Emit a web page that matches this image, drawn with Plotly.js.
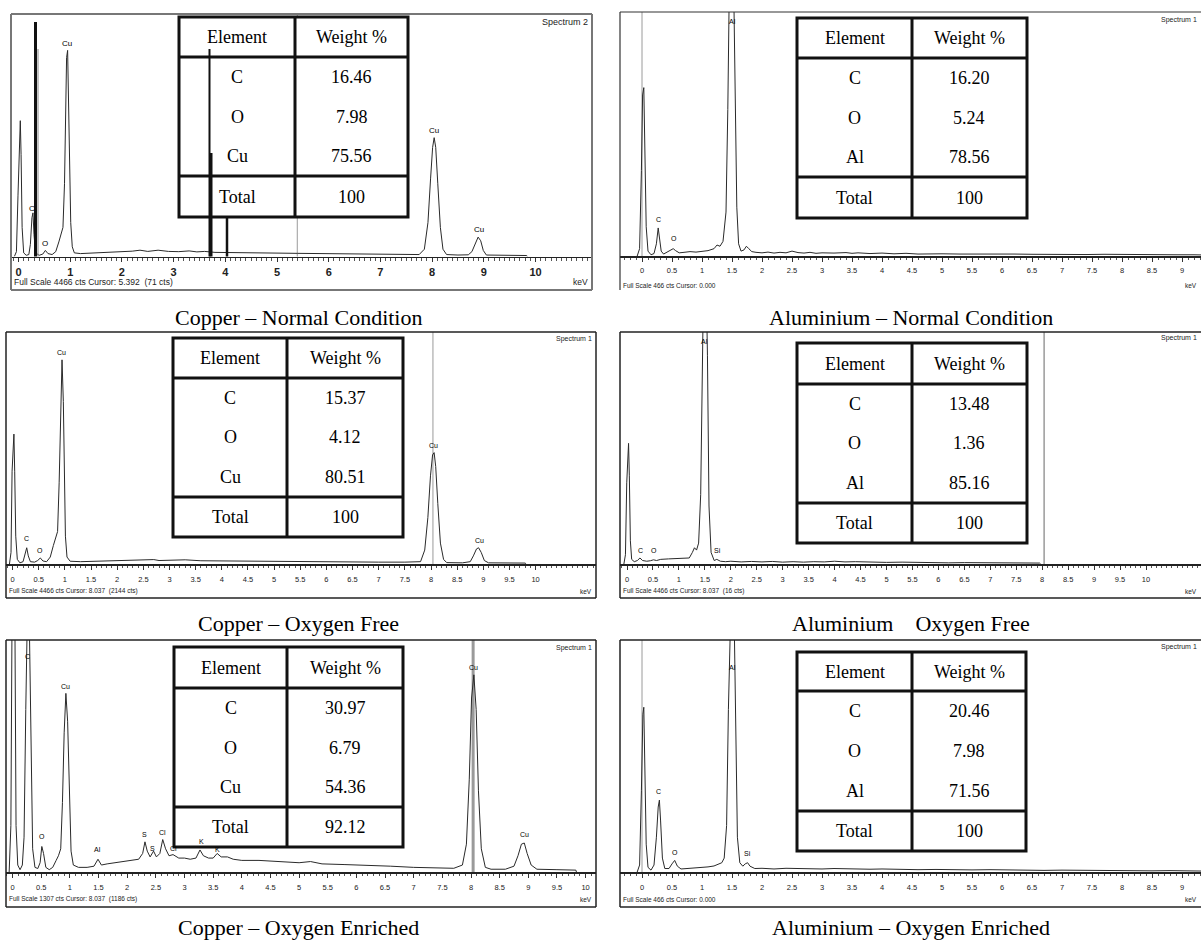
<!DOCTYPE html>
<html>
<head>
<meta charset="utf-8">
<script src="https://cdn.plot.ly/plotly-3.0.1.min.js"></script>
<style>html,body{margin:0;padding:0;background:#fff}#chart{width:1201px;height:942px}</style>
</head>
<body>
<div id="chart"></div>
<script>
// ---------------- DATA ----------------
const captions = ['Copper \u2013 Normal Condition', 'Aluminium \u2013 Normal Condition',
  'Copper \u2013 Oxygen Free', 'Aluminium\u00a0\u00a0\u00a0 Oxygen Free',
  'Copper \u2013 Oxygen Enriched', 'Aluminium \u2013 Oxygen Enriched'];

const tableHeader = ['Element', 'Weight %'];
const totalLabel = 'Total';
const cuElements = ['C', 'O', 'Cu'];
const alElements = ['C', 'O', 'Al'];
const cuNormalWt = ['16.46', '7.98', '75.56'];
const alNormalWt = ['16.20', '5.24', '78.56'];
const cuOxyFreeWt = ['15.37', '4.12', '80.51'];
const alOxyFreeWt = ['13.48', '1.36', '85.16'];
const cuOxyEnrWt = ['30.97', '6.79', '54.36'];
const alOxyEnrWt = ['20.46', '7.98', '71.56'];
const weightTotals = ['100', '100', '100', '100', '92.12', '100'];

const spectrumNames = ['Spectrum 2', 'Spectrum 1', 'Spectrum 1', 'Spectrum 1', 'Spectrum 1', 'Spectrum 1'];
const fullScaleTexts = [
  'Full Scale 4466 cts Cursor: 5.392  (71 cts)',
  'Full Scale 466 cts Cursor: 0.000',
  'Full Scale 4466 cts Cursor: 8.037  (2144 cts)',
  'Full Scale 4466 cts Cursor: 8.037  (16 cts)',
  'Full Scale 1307 cts Cursor: 8.037  (1186 cts)',
  'Full Scale 466 cts Cursor: 0.000'];
const cursorKeV = [5.392, 0.0, 8.037, 8.037, 8.037, 0.0];

const intTickVals = [0, 1, 2, 3, 4, 5, 6, 7, 8, 9, 10];
const intTickText = ['0', '1', '2', '3', '4', '5', '6', '7', '8', '9', '10'];
const halfTickVals = [0, 0.5, 1, 1.5, 2, 2.5, 3, 3.5, 4, 4.5, 5, 5.5, 6, 6.5, 7, 7.5, 8, 8.5, 9, 9.5, 10];
const halfTickText = ['0', '0.5', '1', '1.5', '2', '2.5', '3', '3.5', '4', '4.5', '5', '5.5', '6', '6.5', '7', '7.5', '8', '8.5', '9', '9.5', '10'];

// spectra: [keV, intensity in % of full scale]
const cuNormalSpectrum = [[-0.08,0],[-0.04,2],[-0.01,25],[0.02,52],[0.035,56],[0.05,42],[0.07,12],[0.1,1.5],[0.15,0.5],[0.2,0.8],[0.23,5],[0.26,16],[0.28,18],[0.3,9],[0.33,1.5],[0.4,0.5],[0.47,1],[0.52,2.5],[0.57,1.2],[0.65,0.8],[0.72,2],[0.78,6],[0.83,10],[0.86,12],[0.89,30],[0.91,60],[0.93,82],[0.95,85],[0.97,65],[0.99,35],[1.01,14],[1.04,4],[1.08,1.5],[1.2,1.2],[1.4,1.4],[1.6,1.6],[1.8,1.7],[2.0,2.0],[2.2,2.2],[2.35,2.6],[2.5,2.1],[2.7,2.6],[2.9,2.1],[3.1,2.0],[3.3,2.3],[3.45,1.9],[3.6,2.1],[3.8,1.7],[4.0,1.6],[4.3,1.7],[4.6,1.5],[5.0,1.4],[5.4,1.3],[5.8,1.2],[6.2,1.1],[6.6,1.3],[7.0,1.0],[7.4,0.9],[7.75,0.8],[7.85,3],[7.92,14],[7.97,32],[8.01,45],[8.04,49],[8.07,45],[8.11,30],[8.16,12],[8.21,3],[8.28,0.8],[8.5,0.6],[8.7,0.7],[8.77,2],[8.83,5],[8.89,8],[8.94,6.5],[8.99,2.5],[9.05,0.6],[9.4,0.5],[9.83,0.4],[9.84,0]];

const alNormalSpectrum = [[-0.08,0],[-0.04,3],[-0.01,35],[0.01,66],[0.03,69],[0.05,45],[0.07,12],[0.1,2],[0.15,0.5],[0.2,1],[0.24,5],[0.27,11.5],[0.29,8],[0.32,2],[0.36,0.8],[0.42,1.5],[0.48,2.5],[0.52,3],[0.56,2.2],[0.62,1.3],[0.7,1.5],[0.8,1.8],[0.9,1.6],[1.0,2],[1.1,2.2],[1.2,3],[1.25,4.5],[1.3,4],[1.35,6],[1.4,18],[1.43,60],[1.46,120],[1.49,135],[1.52,125],[1.55,75],[1.58,20],[1.61,5],[1.65,2],[1.7,2.5],[1.74,4],[1.78,3],[1.83,1.8],[1.9,1.5],[2.0,1.3],[2.1,1.6],[2.2,1.2],[2.3,1.5],[2.4,1.3],[2.5,2],[2.55,1.6],[2.6,1.4],[2.7,1.2],[2.8,1.5],[2.9,1.1],[3.0,1.3],[3.2,1.2],[3.4,1.4],[3.5,1.1],[3.6,1.3],[3.8,1.0],[4.0,1.2],[4.2,0.9],[4.4,1.1],[4.6,0.8],[4.8,1.0],[5.0,0.9],[5.3,0.8],[5.6,0.9],[5.9,0.7],[6.2,0.8],[6.5,0.7],[6.8,0.6],[7.1,0.8],[7.4,0.6],[7.7,0.7],[8.0,0.6],[8.3,0.5],[8.6,0.6],[8.9,0.5],[9.2,0.5],[9.4,0.4]];

const cuOxyFreeSpectrum = [[-0.06,0],[-0.03,5],[-0.01,40],[0.01,55],[0.025,56],[0.04,40],[0.06,12],[0.09,2],[0.14,0.5],[0.2,1],[0.24,4],[0.27,7],[0.3,3.5],[0.34,1],[0.42,0.8],[0.48,1.5],[0.53,2.6],[0.58,1.3],[0.65,1],[0.72,3],[0.78,8],[0.82,11.5],[0.86,14],[0.89,35],[0.92,70],[0.945,88],[0.97,70],[0.99,35],[1.01,12],[1.04,3],[1.1,1.2],[1.3,1],[1.6,1.2],[2.0,1.4],[2.4,1.6],[2.7,1.9],[2.8,1.5],[3.2,1.5],[3.3,1.8],[3.6,1.4],[4.0,1.3],[4.5,1.2],[5.0,1.1],[5.5,1.0],[6.0,1.0],[6.5,0.9],[7.0,0.8],[7.5,0.8],[7.8,1],[7.88,6],[7.94,20],[7.99,38],[8.03,47],[8.06,48],[8.09,42],[8.13,26],[8.18,9],[8.24,2],[8.3,0.6],[8.6,0.5],[8.75,1],[8.81,3.5],[8.87,6.5],[8.91,7],[8.96,5],[9.02,1.5],[9.1,0.5],[9.8,0.4],[9.82,0]];

const alOxyFreeSpectrum = [[-0.06,0],[-0.03,4],[-0.005,35],[0.015,50],[0.03,52],[0.045,38],[0.065,10],[0.09,2],[0.14,1],[0.2,1.5],[0.25,2.6],[0.3,1.5],[0.38,1.2],[0.45,1.4],[0.51,1.8],[0.57,1.5],[0.65,2],[0.8,2.2],[0.95,2.3],[1.1,2.4],[1.2,2.6],[1.26,5],[1.3,7],[1.34,6],[1.38,9],[1.42,30],[1.45,90],[1.48,130],[1.52,130],[1.55,90],[1.58,25],[1.62,5],[1.68,1.5],[1.73,2],[1.8,1.2],[1.9,1.0],[2.0,1.2],[2.2,0.9],[2.4,1.1],[2.6,0.9],[2.8,1.1],[3.0,0.8],[3.2,1.0],[3.4,0.8],[3.6,1.0],[3.8,0.9],[4.0,1.2],[4.2,0.9],[4.4,1.0],[4.6,0.8],[4.8,0.9],[5.0,0.7],[5.3,0.8],[5.6,0.6],[5.9,0.7],[6.2,0.5],[6.5,0.6],[6.8,0.5],[7.1,0.6],[7.4,0.4],[7.7,0.5],[7.95,0.4],[7.97,0]];

const cuOxyEnrSpectrum = [[-0.06,0],[-0.03,20],[-0.01,110],[0.02,130],[0.04,110],[0.06,20],[0.09,3],[0.13,1],[0.17,3],[0.2,15],[0.23,70],[0.26,115],[0.29,110],[0.32,50],[0.35,10],[0.39,2],[0.44,1.5],[0.48,4],[0.51,11],[0.54,8],[0.58,2],[0.64,1],[0.7,2],[0.76,5],[0.8,7],[0.84,10],[0.87,30],[0.9,60],[0.93,77],[0.96,65],[0.99,30],[1.02,9],[1.06,3],[1.15,2],[1.3,2],[1.42,2.5],[1.49,5.5],[1.55,3],[1.65,3.5],[1.8,4],[1.95,4.5],[2.1,5],[2.2,5.5],[2.27,8],[2.31,13],[2.35,9],[2.4,6.5],[2.46,9],[2.51,6.5],[2.57,8],[2.62,14],[2.67,10],[2.73,7],[2.8,7.5],[2.9,6],[3.0,6],[3.1,5.5],[3.2,6],[3.27,9.5],[3.33,7],[3.42,6],[3.5,6],[3.57,8],[3.64,6.5],[3.75,6.5],[3.85,5.5],[4.0,5],[4.3,5],[4.6,4.5],[5.0,4],[5.2,4.5],[5.4,3.5],[5.8,3.2],[6.2,3],[6.6,2.5],[7.0,2],[7.4,1.7],[7.7,1.6],[7.85,3],[7.92,12],[7.97,40],[8.01,75],[8.05,85],[8.09,70],[8.13,35],[8.18,10],[8.25,2],[8.35,1.2],[8.6,1.2],[8.75,2.5],[8.82,7],[8.88,12],[8.93,12.5],[8.98,8],[9.05,3],[9.15,1.2],[9.5,1],[9.83,0.8],[9.84,0]];

const alOxyEnrSpectrum = [[-0.08,0],[-0.04,3],[-0.01,35],[0.015,68],[0.03,71],[0.05,45],[0.07,12],[0.1,2],[0.15,0.8],[0.2,3],[0.24,15],[0.27,28],[0.29,31],[0.31,22],[0.34,6],[0.38,1.5],[0.45,1.5],[0.5,3.5],[0.545,5],[0.59,2.5],[0.65,1.3],[0.75,1.5],[0.9,1.7],[1.0,2],[1.1,2.2],[1.2,2.6],[1.28,3.5],[1.33,4],[1.37,6],[1.41,20],[1.44,70],[1.47,125],[1.5,135],[1.53,120],[1.56,60],[1.59,15],[1.63,4],[1.68,2.5],[1.72,3.5],[1.76,4],[1.8,2.5],[1.88,1.5],[2.0,1.6],[2.2,1.3],[2.4,1.6],[2.6,1.4],[2.8,1.5],[3.0,1.3],[3.2,1.5],[3.4,1.3],[3.6,1.4],[3.8,1.2],[4.0,1.3],[4.3,1.1],[4.6,1.0],[4.9,1.1],[5.2,0.9],[5.5,0.9],[5.8,1.0],[6.1,0.8],[6.4,0.9],[6.7,0.7],[7.0,0.8],[7.3,0.7],[7.6,0.6],[7.9,0.7],[8.2,0.6],[8.5,0.5],[8.8,0.6],[9.1,0.5],[9.35,0.4]];

// peak labels: [text, keV, % of full scale]
const cuNormalPeaks = [['Cu',0.94,88],['C',0.27,20],['O',0.52,5.5],['Cu',8.04,52],['Cu',8.9,11]];
const alNormalPeaks = [['C',0.28,15],['O',0.53,7],['Al',1.5,96]];
const cuOxyFreePeaks = [['Cu',0.94,91],['C',0.27,11],['O',0.53,6],['Cu',8.05,51],['Cu',8.92,10]];
const alOxyFreePeaks = [['C',0.26,6],['O',0.52,6],['Al',1.5,96],['Si',1.74,6]];
const cuOxyEnrPeaks = [['C',0.26,93],['O',0.51,15.5],['Cu',0.93,80],['Al',1.49,9.5],['S',2.31,16],['S',2.45,10],['Cl',2.62,17],['Cl',2.8,10],['K',3.3,13],['K',3.58,9.5],['Cu',8.05,88],['Cu',8.93,16]];
const alOxyEnrPeaks = [['C',0.28,34.5],['O',0.55,8.6],['Al',1.5,88],['Si',1.76,8]];

// ---------------- LAYOUT GEOMETRY (pixels) ----------------
const W = 1201, H = 942;
const P = px => px / W;
const Q = py => 1 - py / H;

const panels = [
  {spec: cuNormalSpectrum, peaks: cuNormalPeaks, el: cuElements, wt: cuNormalWt,
   g: {left:11, right:592, top:14, base:256.5, bottom:290, x0:18.5, ppk:51.7, frame:'#777', fw:2, rightLine:true, bottomLine:true,
       table:{x0:179,x1:408,y0:17,y1:217,hdr:57,tot:176,div:295}, ticks:'int', tsize:11, tbold:true, tstand:1,
       small:8.5, lab:8, spec:[590,22,'right'], full:[12,282], kev:[590,282,'right'], cap:[298,317], cursorW:1}},
  {spec: alNormalSpectrum, peaks: alNormalPeaks, el: alElements, wt: alNormalWt,
   g: {left:620, right:1201, top:12, base:256, bottom:290, x0:642, ppk:60, frame:'#333', fw:1.2, rightLine:false, bottomLine:false,
       table:{x0:797,x1:1027,y0:18,y1:218,hdr:58,tot:177,div:912}, ticks:'half', tsize:7.5, tbold:false, tstand:2,
       small:6.5, lab:7, spec:[1199,20,'right'], full:[621,285], kev:[1199,285,'right'], cap:[911,317], cursorW:1}},
  {spec: cuOxyFreeSpectrum, peaks: cuOxyFreePeaks, el: cuElements, wt: cuOxyFreeWt,
   g: {left:6, right:596, top:332, base:564, bottom:598, x0:12.6, ppk:52.3, frame:'#222', fw:1.5, rightLine:true, bottomLine:true,
       table:{x0:173,x1:403,y0:338,y1:537,hdr:378,tot:497,div:287}, ticks:'half', tsize:7.5, tbold:false, tstand:3,
       small:6.5, lab:7, spec:[594,339,'right'], full:[7,591], kev:[594,591,'right'], cap:[298,623], cursorW:1}},
  {spec: alOxyFreeSpectrum, peaks: alOxyFreePeaks, el: alElements, wt: alOxyFreeWt,
   g: {left:620, right:1201, top:332, base:564, bottom:598, x0:627, ppk:51.9, frame:'#222', fw:1.5, rightLine:false, bottomLine:true,
       table:{x0:797,x1:1027,y0:343,y1:543,hdr:384,tot:503,div:912}, ticks:'half', tsize:7.5, tbold:false, tstand:3,
       small:6.5, lab:7, spec:[1199,338,'right'], full:[621,591], kev:[1199,591,'right'], cap:[911,623], cursorW:1.5}},
  {spec: cuOxyEnrSpectrum, peaks: cuOxyEnrPeaks, el: cuElements, wt: cuOxyEnrWt,
   g: {left:6, right:596, top:640, base:872, bottom:907, x0:12.6, ppk:57.3, frame:'#222', fw:1.5, rightLine:true, bottomLine:true,
       table:{x0:174,x1:403,y0:647,y1:847,hdr:688,tot:807,div:287}, ticks:'half', tsize:7.5, tbold:false, tstand:3,
       small:6.5, lab:7, spec:[594,648,'right'], full:[7,899], kev:[594,899,'right'], cap:[298,927], cursorW:3}},
  {spec: alOxyEnrSpectrum, peaks: alOxyEnrPeaks, el: alElements, wt: alOxyEnrWt,
   g: {left:620, right:1201, top:640, base:872, bottom:907, x0:642, ppk:60, frame:'#222', fw:1.5, rightLine:false, bottomLine:true,
       table:{x0:797,x1:1026,y0:652,y1:851,hdr:691,tot:811,div:912}, ticks:'half', tsize:7.5, tbold:false, tstand:3,
       small:6.5, lab:7, spec:[1199,647,'right'], full:[621,899], kev:[1199,899,'right'], cap:[911,927], cursorW:1}}
];

const data = [], shapes = [], annotations = [];
const layout = {
  width: W, height: H, autosize: false,
  margin: {l: 0, r: 0, t: 0, b: 0, pad: 0},
  paper_bgcolor: '#ffffff', plot_bgcolor: 'rgba(0,0,0,0)',
  showlegend: false, hovermode: false
};

const SANS = 'Liberation Sans, Arial, sans-serif';
const SERIF = 'Liberation Serif, Times New Roman, serif';

function pline(x0, y0, x1, y1, color, width) {
  shapes.push({type: 'line', xref: 'paper', yref: 'paper', x0: P(x0), y0: Q(y0), x1: P(x1), y1: Q(y1),
    line: {color: color, width: width}});
}
function ptext(text, x, y, size, family, xanchor, color, extra) {
  annotations.push(Object.assign({text: text, xref: 'paper', yref: 'paper', x: P(x), y: Q(y),
    xanchor: xanchor || 'center', yanchor: 'middle', showarrow: false,
    font: {family: family, size: size, color: color || '#000'}}, extra || {}));
}

panels.forEach((pn, i) => {
  const g = pn.g;
  const n = i === 0 ? '' : String(i + 1);
  const xa = 'x' + n, ya = 'y' + n;
  // spectrum trace
  data.push({type: 'scatter', mode: 'lines', xaxis: xa, yaxis: ya,
    x: pn.spec.map(d => d[0]), y: pn.spec.map(d => d[1]),
    line: {color: '#2a2a2a', width: 1}, hoverinfo: 'skip'});
  const tv = g.ticks === 'int' ? intTickVals : halfTickVals;
  const tt = g.ticks === 'int' ? intTickText : halfTickText;
  layout['xaxis' + n] = {
    domain: [P(g.left), Math.min(1, P(g.right))],
    range: [(g.left - g.x0) / g.ppk, (g.right - g.x0) / g.ppk],
    anchor: ya, showline: true, linecolor: '#222', linewidth: 1.5, mirror: false,
    ticks: 'outside', ticklen: 4, tickwidth: 1, tickcolor: '#333',
    tickmode: 'array', tickvals: tv, ticktext: tt, ticklabelstandoff: g.tstand,
    tickfont: {family: SANS, size: g.tsize, color: '#222', weight: g.tbold ? 'bold' : 'normal'},
    minor: {ticks: 'outside', ticklen: 2.5, dtick: 0.1, tick0: 0, tickcolor: '#555', tickwidth: 1, showgrid: false},
    showgrid: false, zeroline: false, fixedrange: true
  };
  layout['yaxis' + n] = {
    domain: [Q(g.base), Q(g.top)], range: [0, 100], anchor: xa,
    visible: false, showgrid: false, zeroline: false, fixedrange: true
  };
  // cursor line
  shapes.push({type: 'line', xref: xa, yref: ya + ' domain', x0: cursorKeV[i], x1: cursorKeV[i], y0: 0, y1: 1,
    line: {color: '#9a9a9a', width: g.cursorW}, layer: 'below'});
  // frame
  pline(g.left, g.top, g.left, g.bottom, g.frame, g.fw);
  pline(g.left, g.top, g.right, g.top, g.frame, g.fw);
  if (g.rightLine) pline(g.right, g.top, g.right, g.bottom, g.frame, g.fw);
  if (g.bottomLine) pline(g.left, g.bottom, g.right, g.bottom, g.frame, g.fw);
  // peak labels
  pn.peaks.forEach(pk => {
    annotations.push({text: pk[0], xref: xa, yref: ya, x: pk[1], y: pk[2], showarrow: false,
      xanchor: 'center', yanchor: 'middle', font: {family: SANS, size: g.lab, color: '#000000'}});
  });
  // corner texts
  ptext(spectrumNames[i], g.spec[0], g.spec[1], g.small + 0.5, SANS, g.spec[2], '#222');
  ptext(fullScaleTexts[i], g.full[0], g.full[1], g.small, SANS, 'left', '#222');
  ptext('keV', g.kev[0], g.kev[1], g.small, SANS, g.kev[2], '#222');
  // table
  const t = g.table;
  shapes.push({type: 'rect', xref: 'paper', yref: 'paper', x0: P(t.x0), x1: P(t.x1), y0: Q(t.y1), y1: Q(t.y0),
    fillcolor: '#ffffff', line: {color: '#111', width: 3}});
  pline(t.x0, t.hdr, t.x1, t.hdr, '#111', 3);
  pline(t.x0, t.tot, t.x1, t.tot, '#111', 3);
  pline(t.div, t.y0, t.div, t.y1, '#111', 3);
  const c1 = (t.x0 + t.div) / 2, c2 = (t.div + t.x1) / 2;
  ptext(tableHeader[0], c1, (t.y0 + t.hdr) / 2, 18, SERIF);
  ptext(tableHeader[1], c2, (t.y0 + t.hdr) / 2, 18, SERIF);
  const rh = (t.tot - t.hdr) / pn.el.length;
  pn.el.forEach((e, k) => {
    ptext(e, c1, t.hdr + (k + 0.5) * rh, 18, SERIF);
    ptext(pn.wt[k], c2, t.hdr + (k + 0.5) * rh, 18, SERIF);
  });
  ptext(totalLabel, c1, (t.tot + t.y1) / 2, 18, SERIF);
  ptext(weightTotals[i], c2, (t.tot + t.y1) / 2, 18, SERIF);
  // caption
  ptext(captions[i], g.cap[0], g.cap[1], 22, SERIF, 'center', '#000');
});

// scan artefact bars in the first panel (thick dark vertical strokes)
pline(35.5, 22, 35.5, 256.5, '#111', 3);
pline(38, 49, 38, 256.5, '#888', 1);
pline(209.5, 49, 209.5, 256.5, '#111', 2);
pline(211, 153, 211, 256.5, '#111', 3);
pline(227, 217, 227, 256.5, '#111', 2.5);

layout.shapes = shapes;
layout.annotations = annotations;

Plotly.newPlot('chart', data, layout, {staticPlot: true, displayModeBar: false});
</script>
</body>
</html>
